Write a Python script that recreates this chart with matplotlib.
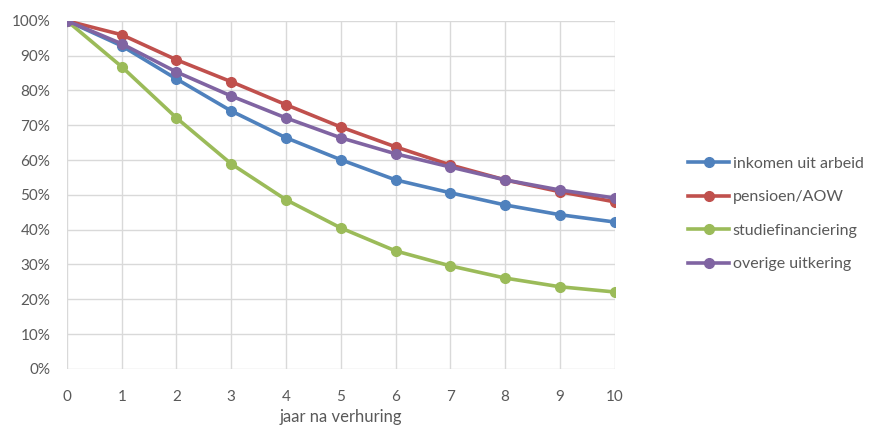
import matplotlib.pyplot as plt
import matplotlib.ticker as mtick

plt.rcParams['font.family'] = ['Lato', 'DejaVu Sans']

jaren = [0, 1, 2, 3, 4, 5, 6, 7, 8, 9, 10]
inkomen = [100, 92.8, 83.3, 74.1, 66.4, 60.1, 54.3, 50.6, 47.1, 44.3, 42.2]
pensioen = [100, 96.0, 88.8, 82.5, 75.9, 69.5, 63.8, 58.6, 54.3, 50.9, 48.0]
studie = [100, 86.8, 72.1, 58.9, 48.6, 40.5, 33.9, 29.6, 26.1, 23.6, 22.1]
overig = [100, 93.4, 85.3, 78.4, 72.1, 66.4, 61.8, 58.0, 54.3, 51.4, 49.1]

labels = ['inkomen uit arbeid', 'pensioen/AOW', 'studiefinanciering', 'overige uitkering']
colors = ['#4F81BD', '#C0504D', '#9BBB59', '#8064A2']

fig = plt.figure(figsize=(8.72, 4.25), dpi=100)
ax = fig.add_axes([0.0768, 0.132, 0.628, 0.819])

for serie, lab, col in zip([inkomen, pensioen, studie, overig], labels, colors):
    ax.plot(jaren, serie, color=col, linewidth=2.6, marker='o', markersize=7, label=lab)

ax.set_xlim(0, 10)
ax.set_ylim(0, 100)
ax.set_xticks(jaren)
ax.set_yticks(range(0, 101, 10))
ax.yaxis.set_major_formatter(mtick.PercentFormatter(decimals=0))
ax.grid(color='#D9D9D9', linewidth=1)
ax.set_axisbelow(True)
for s in ax.spines.values():
    s.set_visible(False)
ax.tick_params(length=0, colors='#595959', labelsize=11)
ax.tick_params(axis='x', pad=15)
ax.tick_params(axis='y', pad=12)
ax.set_xlabel('jaar na verhuring', color='#595959', fontsize=12, labelpad=4)

ax.legend(loc='center left', bbox_to_anchor=(1.134, 0.445), frameon=False, fontsize=11.5,
          labelcolor='#595959', handlelength=2.6, handletextpad=0.2, labelspacing=1.2,
          borderpad=0, borderaxespad=0)

fig.savefig('out.png', dpi=100)
